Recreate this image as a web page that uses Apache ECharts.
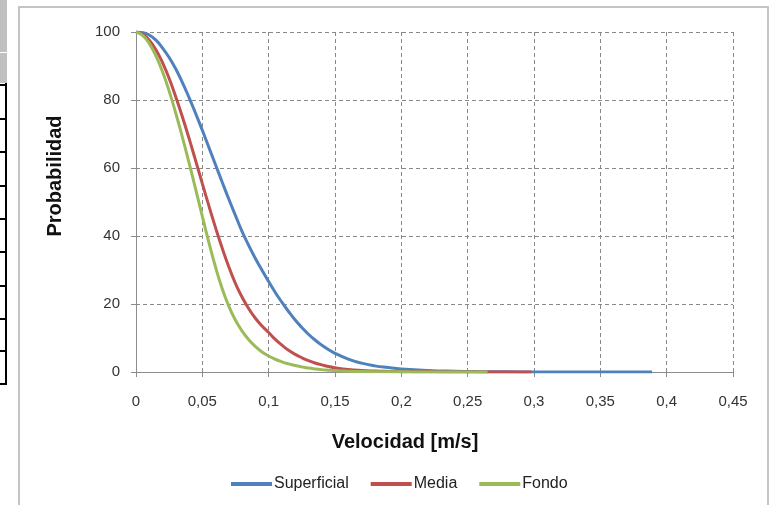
<!DOCTYPE html>
<html>
<head>
<meta charset="utf-8">
<script src="https://cdn.jsdelivr.net/npm/echarts@6/dist/echarts.min.js"></script>
<style>
    body { margin: 0; background: #fff; }
    #frame { position: absolute; left: 18px; top: 6px; width: 747px; height: 520px; border: 2px solid #c4c4c4; }
    #main { position: absolute; left: 0; top: 0; width: 769px; height: 505px; }
    .tab { position: absolute; left: 0; width: 7px; background: #000; height: 2px; }
</style>
</head>
<body>
<div id="frame"></div>
<div id="tabla"></div>
<div id="main"></div>
<script>
// Probabilidad de excedencia vs velocidad
var velSuperficial = [0,0.005,0.01,0.015,0.02,0.025,0.03,0.035,0.04,0.045,0.05,0.055,0.06,0.065,0.07,0.075,0.08,0.085,0.09,0.095,0.1,0.105,0.11,0.115,0.12,0.125,0.13,0.135,0.14,0.145,0.15,0.16,0.17,0.18,0.19,0.2,0.22,0.24,0.26,0.28,0.3,0.33,0.36,0.389];
var probSuperficial = [100,99.8,99.1,97.6,95.3,92.5,89.1,85.1,80.7,76,71.1,66,60.9,55.8,50.8,46,41.3,37.2,33.4,29.9,26.6,23.4,20.5,17.8,15.3,13.1,11.1,9.4,7.9,6.6,5.5,3.8,2.6,1.8,1.3,0.9,0.45,0.22,0.1,0.05,0.02,0.005,0,0];

var velMedia = [0,0.005,0.01,0.015,0.02,0.025,0.03,0.035,0.04,0.045,0.05,0.055,0.06,0.065,0.07,0.075,0.08,0.085,0.09,0.095,0.1,0.105,0.11,0.115,0.12,0.125,0.13,0.135,0.14,0.145,0.15,0.16,0.17,0.18,0.19,0.2,0.22,0.25,0.298];
var probMedia = [100,99.3,97.6,94.8,91,86.3,80.9,75,68.7,62.1,55.4,48.8,42.4,36.4,30.9,26,22,18.6,15.8,13.5,11.6,9.6,7.9,6.4,5.2,4.2,3.35,2.65,2.1,1.6,1.25,0.75,0.45,0.28,0.17,0.1,0.04,0.01,0];

var velFondo = [0,0.005,0.01,0.015,0.02,0.025,0.03,0.035,0.04,0.045,0.05,0.055,0.06,0.065,0.07,0.075,0.08,0.085,0.09,0.095,0.1,0.105,0.11,0.115,0.12,0.125,0.13,0.135,0.14,0.145,0.15,0.16,0.17,0.18,0.2,0.22,0.265];
var probFondo = [100,99,96.6,93,88.3,82.6,76.1,69,61.5,53.7,45.8,38,30.8,24.5,19.3,15.2,12,9.5,7.5,5.9,4.7,3.75,3,2.4,1.9,1.5,1.15,0.9,0.7,0.55,0.42,0.25,0.15,0.1,0.04,0.015,0];

var nombres = ['Superficial', 'Media', 'Fondo'];
var colores = ['#4f81bd', '#c0504d', '#9bbb59'];

// lineas de la tabla de la izquierda (recorte de la hoja)
var filasTabla = [84,118,151,185,218,251,285,318,350,383];

var tabla = document.getElementById('tabla');
var html = '<div style="position:absolute;left:0;top:0;width:7px;height:83px;background:#c0c0c0"></div>'
    + '<div style="position:absolute;left:0;top:52px;width:7px;height:1px;background:#fff"></div>'
    + '<div style="position:absolute;left:5px;top:83px;width:2px;height:302px;background:#000"></div>';
for (var i = 0; i < filasTabla.length; i++) {
    html += '<div class="tab" style="top:' + filasTabla[i] + 'px"></div>';
}
tabla.innerHTML = html;

function pares(xs, ys) {
    var out = [];
    for (var i = 0; i < xs.length; i++) out.push([xs[i], ys[i]]);
    return out;
}

var datos = [pares(velSuperficial, probSuperficial), pares(velMedia, probMedia), pares(velFondo, probFondo)];

var fuente = 'Arial, "Liberation Sans", sans-serif';

var series = [];
for (var k = 0; k < nombres.length; k++) {
    series.push({
        name: nombres[k],
        type: 'line',
        data: datos[k],
        smooth: true,
        symbol: 'none',
        lineStyle: { color: colores[k], width: 3 },
        itemStyle: { color: colores[k] }
    });
}

var chart = echarts.init(document.getElementById('main'), null, { renderer: 'canvas' });
chart.setOption({
    animation: false,
    grid: { left: 136, right: 36, top: 32, bottom: 133 },
    xAxis: {
        type: 'value', min: 0, max: 0.45, interval: 0.05,
        axisLine: { lineStyle: { color: '#8c8c8c', width: 1 } },
        axisTick: { show: true, length: 5, lineStyle: { color: '#8c8c8c' } },
        axisLabel: {
            color: '#333', fontFamily: fuente, fontSize: 15, margin: 22,
            formatter: function (v) { return String(Math.round(v * 100) / 100).replace('.', ','); }
        },
        splitLine: { show: true, lineStyle: { color: '#888', type: [4, 3], width: 1 } }
    },
    yAxis: {
        type: 'value', min: 0, max: 100, interval: 20,
        axisLine: { show: true, lineStyle: { color: '#8c8c8c', width: 1 } },
        axisTick: { show: true, length: 5, lineStyle: { color: '#8c8c8c' } },
        axisLabel: { color: '#333', fontFamily: fuente, fontSize: 15, margin: 16 },
        splitLine: { show: true, lineStyle: { color: '#888', type: [4, 3], width: 1 } }
    },
    legend: {
        data: nombres,
        left: 226, top: 471,
        icon: 'rect', itemWidth: 41, itemHeight: 4, itemGap: 22,
        textStyle: { fontFamily: fuente, fontSize: 16, color: '#222', padding: [0, 0, 0, -3] }
    },
    graphic: [
        {
            type: 'text',
            x: 55, y: 176, rotation: Math.PI / 2,
            style: { text: 'Probabilidad', font: 'bold 20px ' + fuente, fill: '#111', textAlign: 'center', textVerticalAlign: 'middle' }
        },
        {
            type: 'text',
            x: 405, y: 442,
            style: { text: 'Velocidad [m/s]', font: 'bold 20px ' + fuente, fill: '#111', textAlign: 'center', textVerticalAlign: 'middle' }
        }
    ],
    series: series
});
</script>
</body>
</html>
